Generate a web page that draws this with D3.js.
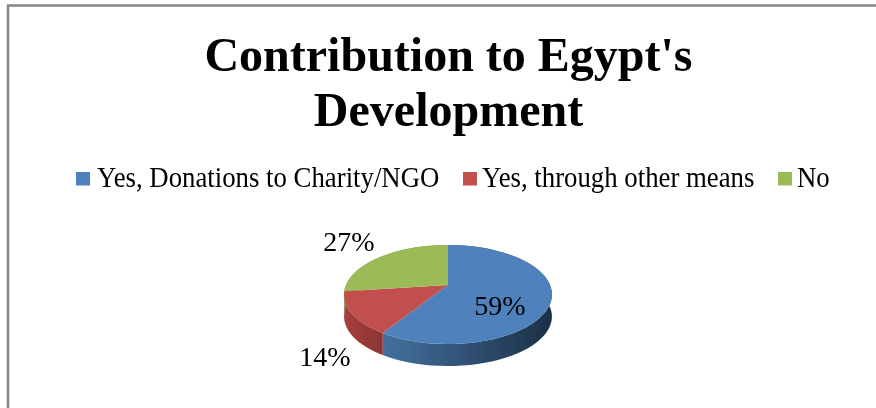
<!doctype html>
<html>
<head>
<meta charset="UTF-8">
<title>Contribution to Egypt's Development</title>
<script src="https://d3js.org/d3.v7.min.js"></script>
<style>
  html, body { margin: 0; padding: 0; background: #fff; }
  svg { display: block; }
  text { font-family: "Liberation Serif", serif; fill: #000; }
</style>
</head>
<body>
<svg id="chart" width="876" height="408"></svg>
<script>
// chart data
var categories = ["Yes, Donations to Charity/NGO", "Yes, through other means", "No"];
var shares = [59, 14, 27];
var shareLabels = ["59%", "14%", "27%"];
var titleLines = ["Contribution to Egypt's", "Development"];
var colors = ["#4f81bd", "#c0504d", "#9bbb59"];
var sideLight = ["#44709f", "#a5403e", "#7f9a48"];
var sideDark = ["#1c3047", "#8a3432", "#5f7336"];

var svg = d3.select("#chart");

// the reference is a slightly soft screenshot
svg.append("defs").append("filter")
    .attr("id", "soft")
    .append("feGaussianBlur")
    .attr("stdDeviation", 0.5);

var root = svg.append("g").attr("filter", "url(#soft)");

// frame, only top and left edges are in the crop
root.append("path")
    .attr("d", "M8,420V5.5H890")
    .attr("fill", "none")
    .attr("stroke", "#868686")
    .attr("stroke-width", 2.5);

// title
root.selectAll("text.title")
    .data(titleLines)
    .enter().append("text")
    .attr("class", "title")
    .attr("x", 448.5)
    .attr("y", function(d, i) { return 71 + i * 55; })
    .attr("text-anchor", "middle")
    .attr("font-size", 48)
    .attr("font-weight", "bold")
    .text(function(d) { return d; });

// legend, glyphs in the reference are a bit narrower than the font
var legendX = [76, 463, 778];
var legend = root.selectAll("g.legend")
    .data(categories)
    .enter().append("g")
    .attr("class", "legend")
    .attr("transform", function(d, i) { return "translate(" + legendX[i] + ",0)"; });
legend.append("rect")
    .attr("y", 172)
    .attr("width", 14)
    .attr("height", 13.5)
    .attr("fill", function(d, i) { return colors[i]; });
legend.append("text")
    .attr("transform", function(d, i) { return "translate(" + (i == 0 ? 21 : 19) + ",187) scale(0.94,1)"; })
    .attr("font-size", 28.5)
    .text(function(d) { return d; });

// pie, tilted disc seen in perspective
var pie = d3.pie().sort(null).value(function(d) { return d; });
var arcs = pie(shares);

var cx = 448, cy = 285, depth = 22;
var a = 102, b = 47.7, k = 0.192;

function project(angle, drop) {
    var u = Math.sin(angle), v = Math.cos(angle), w = 1 + k * v;
    return [cx + a * u / w, cy - b * v / w + (drop || 0)];
}

function arcPoints(start, end, drop) {
    return d3.range(0, 61).map(function(i) {
        return project(start + (end - start) * i / 60, drop);
    });
}

var lineGen = d3.line();
var defs = svg.select("defs");

// side wall gradients
arcs.forEach(function(d, i) {
    var g = defs.append("linearGradient")
        .attr("id", "side" + i)
        .attr("gradientUnits", "userSpaceOnUse")
        .attr("x1", i == 1 ? 344 : 384).attr("x2", i == 1 ? 384 : 552)
        .attr("y1", 0).attr("y2", 0);
    g.append("stop").attr("offset", 0).attr("stop-color", sideLight[i]);
    g.append("stop").attr("offset", 1).attr("stop-color", sideDark[i]);
});

// side walls first, the top faces cover what is not visible
root.selectAll("path.side")
    .data(arcs)
    .enter().append("path")
    .attr("class", "side")
    .attr("fill", function(d, i) { return "url(#side" + i + ")"; })
    .attr("d", function(d) {
        var pts = arcPoints(d.startAngle, d.endAngle, 0)
            .concat(arcPoints(d.startAngle, d.endAngle, depth).reverse());
        return lineGen(pts) + "Z";
    });

// top faces
root.selectAll("path.face")
    .data(arcs)
    .enter().append("path")
    .attr("class", "face")
    .attr("fill", function(d, i) { return colors[i]; })
    .attr("d", function(d) {
        return lineGen([[cx, cy]].concat(arcPoints(d.startAngle, d.endAngle, 0))) + "Z";
    });

// value labels
var labelX = [500, 325, 349];
var labelY = [315, 366, 251];
root.selectAll("text.value")
    .data(shareLabels)
    .enter().append("text")
    .attr("class", "value")
    .attr("x", function(d, i) { return labelX[i]; })
    .attr("y", function(d, i) { return labelY[i]; })
    .attr("text-anchor", "middle")
    .attr("font-size", 28)
    .text(function(d) { return d; });
</script>
</body>
</html>
